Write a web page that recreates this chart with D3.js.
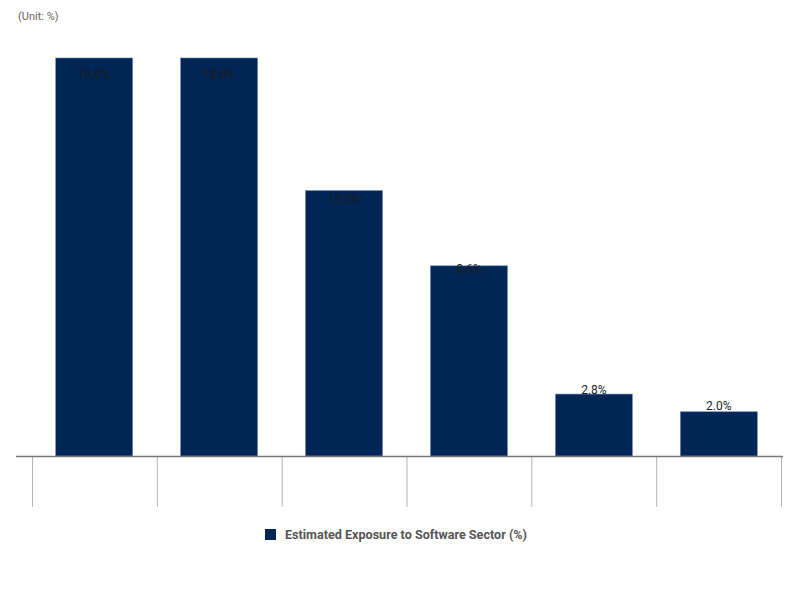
<!DOCTYPE html>
<html><head><meta charset="utf-8">
<script src="https://cdn.jsdelivr.net/npm/d3@7/dist/d3.min.js"></script>
<style>html,body{margin:0;padding:0;background:#fff;}</style>
</head><body>
<svg id="c" width="800" height="594"></svg>
<script>
const categories = ["A","B","C","D","E","F"];
const values = [18.0, 18.0, 12.0, 8.6, 2.8, 2.0];
const valueLabels = ["18.0%","18.0%","12.0%","8.6%","2.8%","2.0%"];
const seriesName = "Estimated Exposure to Software Sector (%)";
const unitText = "(Unit: %)";

const svg = d3.select("#c");
const color = "#012554";

const x = d3.scaleBand().domain(categories).range([32, 781]).paddingInner(0.385).paddingOuter(0.19);
const y = d3.scaleLinear().domain([0, 18]).range([456, 58]);
const yLab = d3.scaleLinear().domain([0, 18]).range([447.5, 74]);

svg.append("text").attr("x", 18).attr("y", 20).attr("font-family", "Roboto, sans-serif")
  .attr("font-size", 11).attr("fill", "#666").text(unitText);

svg.append("g").selectAll("rect").data(values).join("rect")
  .attr("x", (d, i) => x(categories[i]))
  .attr("y", d => y(d))
  .attr("width", x.bandwidth())
  .attr("height", d => y(0) - y(d))
  .attr("fill", color).attr("stroke", "#5f7ba5").attr("stroke-width", 0.6);

svg.append("g").selectAll("text").data(values).join("text")
  .attr("x", (d, i) => x(categories[i]) + x.bandwidth() / 2)
  .attr("y", d => yLab(d))
  .attr("dy", "0.35em")
  .attr("text-anchor", "middle")
  .attr("font-family", "Roboto, sans-serif").attr("font-size", 12)
  .attr("fill", "#1c1c1c")
  .text((d, i) => valueLabels[i]);

// category axis (empty labels, long ticks)
const xs = d3.scaleLinear().domain([0, categories.length]).range([32, 781]);
const axis = d3.axisBottom(xs).ticks(categories.length).tickValues(d3.range(categories.length + 1))
  .tickSize(51).tickFormat("");
const ag = svg.append("g").attr("transform", "translate(0,456)").call(axis);
ag.select(".domain").remove();
ag.selectAll(".tick line").attr("stroke", "#b5b5b5").attr("stroke-width", 1);
svg.append("line").attr("x1", 16).attr("x2", 783).attr("y1", 456.5).attr("y2", 456.5)
  .attr("stroke", "#777").attr("stroke-width", 1.5);

// legend
const lg = svg.append("g");
lg.append("rect").attr("x", 265).attr("y", 529).attr("width", 11).attr("height", 11).attr("fill", color);
lg.append("text").attr("x", 285).attr("y", 539).attr("font-family", "Roboto, sans-serif")
  .attr("font-size", 12.5).attr("font-weight", "bold").attr("fill", "#555")
  .attr("textLength", 242).attr("lengthAdjust", "spacingAndGlyphs").text(seriesName);
</script>
</body></html>
